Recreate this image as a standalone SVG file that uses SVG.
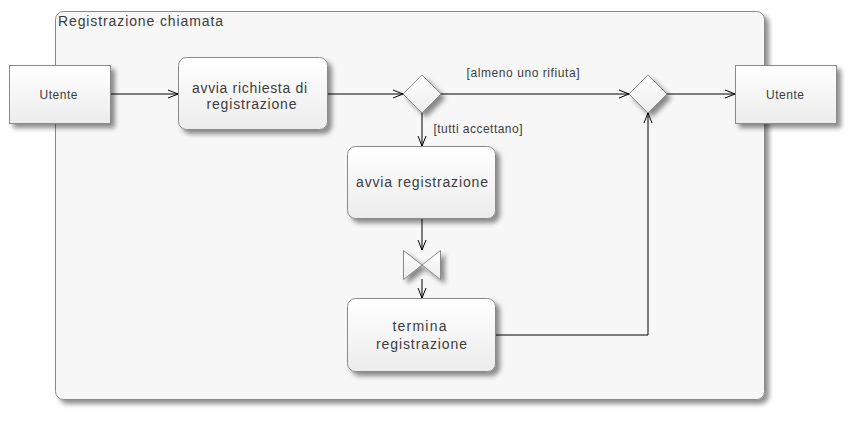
<svg xmlns="http://www.w3.org/2000/svg" width="864" height="448" viewBox="0 0 864 448">
<style>
text{font-family:"Liberation Sans",Arial,sans-serif;fill:#3c3c3c}
.node{stroke:#8a8a8a;stroke-width:1;fill:url(#g)}
.c{stroke:#000;stroke-width:1;fill:none}
.t14{font-size:14px;text-anchor:middle}
.t12{font-size:12px;text-anchor:middle}
.lbl{font-size:12px}
</style>
<defs>
<linearGradient id="g" x1="0" y1="0" x2="0" y2="1">
<stop offset="0" stop-color="#ffffff"/>
<stop offset="1" stop-color="#ececec"/>
</linearGradient>
<filter id="sh" x="-20%" y="-20%" width="150%" height="150%">
<feGaussianBlur in="SourceAlpha" stdDeviation="2.5"/>
<feOffset dx="4" dy="4" result="o"/>
<feComponentTransfer><feFuncA type="linear" slope="0.45"/></feComponentTransfer>
<feMerge><feMergeNode/><feMergeNode in="SourceGraphic"/></feMerge>
</filter>
<marker id="a" viewBox="0 0 10 10" refX="10" refY="5" markerWidth="10" markerHeight="10" markerUnits="userSpaceOnUse" orient="auto">
<path d="M0,1 L10,5 L0,9" fill="none" stroke="#000" stroke-width="1"/>
</marker>
</defs>
<rect width="864" height="448" fill="#ffffff"/>
<g id="frame">
<rect x="55.5" y="11.5" width="709" height="388" rx="8" fill="#f7f7f7" stroke="#8a8a8a" filter="url(#sh)"/>
<text x="58" y="26" style="font-size:14px" textLength="165" lengthAdjust="spacing">Registrazione chiamata</text>
</g>
<g id="connectors">
<path class="c" d="M110,94 H178" marker-end="url(#a)"/>
<path class="c" d="M328,94 H403" marker-end="url(#a)"/>
<path class="c" d="M441,94 H629" marker-end="url(#a)"/>
<path class="c" d="M667,94 H735" marker-end="url(#a)"/>
<path class="c" d="M422,113 V146" marker-end="url(#a)"/>
<path class="c" d="M422,218 V250" marker-end="url(#a)"/>
<path class="c" d="M422,279 V298" marker-end="url(#a)"/>
<path class="c" d="M496,335 H648 V113" marker-end="url(#a)"/>
<text class="lbl" x="466.5" y="77" textLength="113" lengthAdjust="spacing">[almeno uno rifiuta]</text>
<text class="lbl" x="433.5" y="133" textLength="89" lengthAdjust="spacing">[tutti accettano]</text>
</g>
<g id="utente-in">
<rect class="node" x="9.5" y="65.5" width="101" height="58" filter="url(#sh)"/>
<text class="t12" x="58.5" y="98.5" textLength="38" lengthAdjust="spacing">Utente</text>
</g>
<g id="avvia-richiesta">
<rect class="node" x="178.5" y="57.5" width="149" height="72" rx="8" filter="url(#sh)"/>
<text class="t14" x="249.5" y="93" textLength="115" lengthAdjust="spacing">avvia richiesta di</text>
<text class="t14" x="251.5" y="109" textLength="90" lengthAdjust="spacing">registrazione</text>
</g>
<g id="decision">
<path class="node" d="M422,75 L441,94 L422,113 L403,94 Z" filter="url(#sh)"/>
</g>
<g id="merge">
<path class="node" d="M648,75 L667,94 L648,113 L629,94 Z" filter="url(#sh)"/>
</g>
<g id="utente-out">
<rect class="node" x="735.5" y="65.5" width="101" height="58" filter="url(#sh)"/>
<text class="t12" x="785" y="98.5" textLength="38" lengthAdjust="spacing">Utente</text>
</g>
<g id="avvia-registrazione">
<rect class="node" x="347.5" y="146.5" width="148" height="72" rx="8" filter="url(#sh)"/>
<text class="t14" x="422" y="187" textLength="132" lengthAdjust="spacing">avvia registrazione</text>
</g>
<g id="bowtie">
<path class="node" d="M403.5,250.5 L422,265 L440.5,250.5 V279.5 L422,265 L403.5,279.5 Z" filter="url(#sh)"/>
</g>
<g id="termina-registrazione">
<rect class="node" x="347.5" y="298.5" width="148" height="73" rx="8" filter="url(#sh)"/>
<text class="t14" x="419.5" y="331" textLength="54" lengthAdjust="spacing">termina</text>
<text class="t14" x="421.5" y="349" textLength="91" lengthAdjust="spacing">registrazione</text>
</g>
</svg>
